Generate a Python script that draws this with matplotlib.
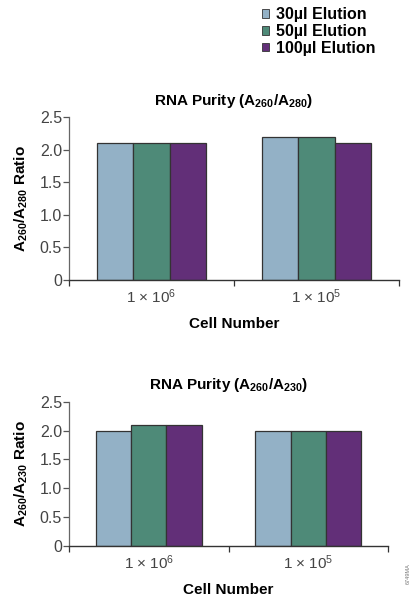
import numpy as np
import matplotlib
matplotlib.use('Agg')
import matplotlib.pyplot as plt
from matplotlib.patches import Patch

# === Data ===
cells = [r'1 $\times$ 10$^{6}$', r'1 $\times$ 10$^{5}$']
series = ['30µl Elution', '50µl Elution', '100µl Elution']
colors = ['#93B1C6', '#4E8A78', '#622F78']
ratio_280 = [[2.1, 2.2], [2.1, 2.2], [2.1, 2.1]]
ratio_230 = [[2.0, 2.0], [2.1, 2.0], [2.1, 2.0]]
yticks = [0, 0.5, 1.0, 1.5, 2.0, 2.5]
ytick_labels = ['0', '0.5', '1.0', '1.5', '2.0', '2.5']

fam = ['Liberation Sans', 'DejaVu Sans']
plt.rcParams['font.family'] = fam
plt.rcParams['mathtext.fontset'] = 'custom'
plt.rcParams['mathtext.rm'] = 'Liberation Sans'
plt.rcParams['mathtext.bf'] = 'Liberation Sans:bold'
plt.rcParams['mathtext.it'] = 'Liberation Sans'

fig = plt.figure(figsize=(4.14, 5.98), dpi=100)
ax1 = fig.add_axes([0.1667, 0.5318, 0.7971, 0.2725])
ax2 = fig.add_axes([0.1667, 0.0870, 0.7705, 0.2413])

w = 0.222
x = np.arange(len(cells))


def draw(ax, vals, title, ylab):
    for i, (v, c) in enumerate(zip(vals, colors)):
        ax.bar(x + (i - 1) * w, v, w, color=c, edgecolor='#333333', linewidth=0.9)
    ax.set_xlim(-0.5, 1.5)
    ax.set_ylim(0, 2.5)
    ax.set_yticks(yticks)
    ax.set_yticklabels(ytick_labels, fontsize=11.5, color='#444444')
    ax.set_xticks(x)
    ax.set_xticklabels(cells, fontsize=11, color='#444444')
    ax.tick_params(axis='x', which='major', length=0, pad=5)
    ax.set_xticks([-0.5, 0.5, 1.5], minor=True)
    ax.tick_params(axis='x', which='minor', length=4, color='#333333', width=0.9)
    ax.tick_params(axis='y', length=4, color='#555555', width=0.9, pad=1)
    for s in ['top', 'right']:
        ax.spines[s].set_visible(False)
    ax.spines['left'].set_color('#666666')
    ax.spines['bottom'].set_color('#333333')
    ax.spines['left'].set_linewidth(0.9)
    ax.spines['bottom'].set_linewidth(1.0)
    ax.set_title(title, fontsize=11, fontweight='bold', pad=9)
    ax.set_xlabel('Cell Number', fontsize=11, fontweight='bold', labelpad=8)
    ax.set_ylabel(ylab, fontsize=11, fontweight='bold', labelpad=7)


draw(ax1, ratio_280, r'RNA Purity (A$_{\mathregular{260}}$/A$_{\mathregular{280}}$)',
     r'A$_{\mathregular{260}}$/A$_{\mathregular{280}}$ Ratio')
draw(ax2, ratio_230, r'RNA Purity (A$_{\mathregular{260}}$/A$_{\mathregular{230}}$)',
     r'A$_{\mathregular{260}}$/A$_{\mathregular{230}}$ Ratio')

handles = [Patch(facecolor=c, edgecolor='#333333', linewidth=0.6) for c in colors]
fig.legend(handles, series, loc='upper left', bbox_to_anchor=(0.618, 0.999),
           frameon=False, prop={'family': fam, 'weight': 'bold', 'size': 11.5},
           handlelength=0.45, handleheight=0.45, handletextpad=0.4,
           labelspacing=0.12, borderaxespad=0)

fig.text(0.985, 0.04, '6749MA', rotation=90, fontsize=4, color='#777777',
         ha='center', va='center')

fig.savefig('out.png', dpi=100)
